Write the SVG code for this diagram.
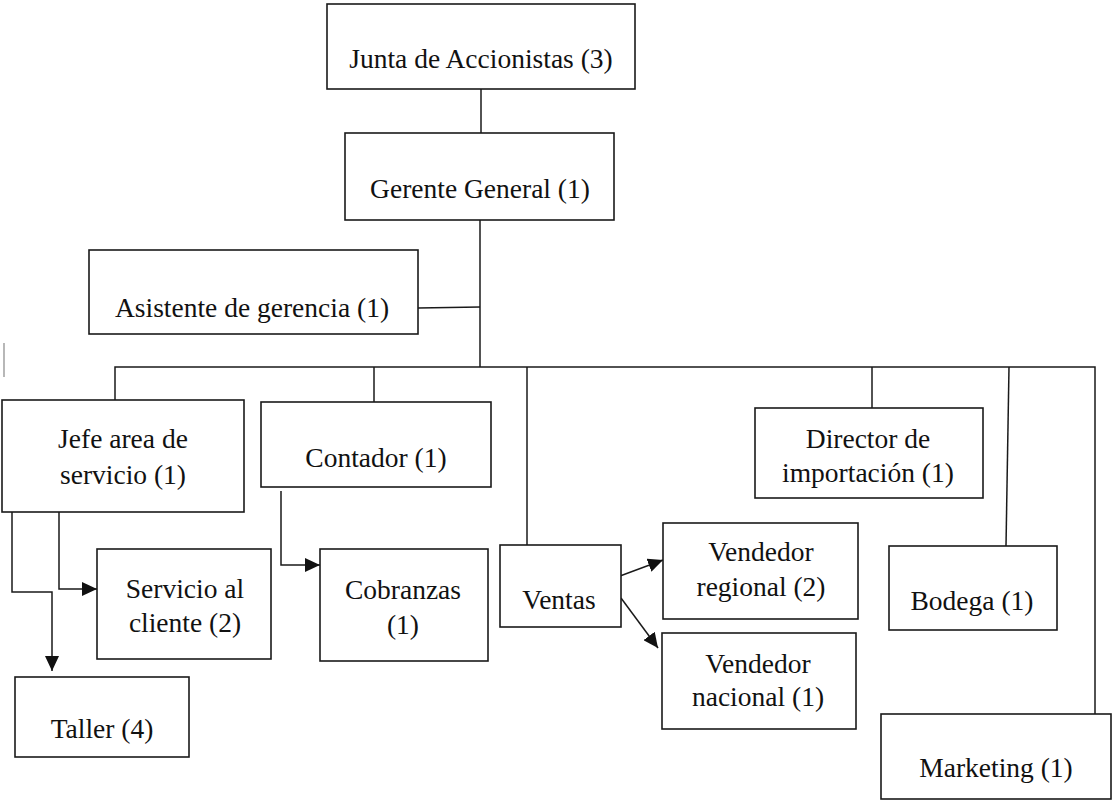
<svg xmlns="http://www.w3.org/2000/svg" width="1113" height="802" viewBox="0 0 1113 802">
<style>
.box{fill:#fff;stroke:#1a1a1a;stroke-width:1.6}
.t{font-family:"Liberation Serif","Times New Roman",serif;font-size:27.5px;fill:#111;text-anchor:middle}
.c{fill:none;stroke:#1a1a1a;stroke-width:1.5}
</style>
<defs>
<marker id="ah" markerUnits="userSpaceOnUse" markerWidth="16" markerHeight="14" viewBox="0 0 16 14" refX="15" refY="7" orient="auto">
<path d="M0,0 L15,7 L0,14 Z" fill="#111"/>
</marker>
</defs>
<rect width="1113" height="802" fill="#fff"/>
<g id="connectors">
<path class="c" d="M481,89 V133"/>
<path class="c" d="M480,220 V367"/>
<path class="c" d="M418,308 L480,307"/>
<path class="c" d="M115,400 V367 H1095 V714"/>
<path class="c" d="M374,367 V402"/>
<path class="c" d="M527,367 V545"/>
<path class="c" d="M872,367 V408"/>
<path class="c" d="M1009,367 L1006,546"/>
<path class="c" d="M59,512 V589 H97" marker-end="url(#ah)"/>
<path class="c" d="M12,512 V592 H52 V671" marker-end="url(#ah)"/>
<path class="c" d="M281,491 V565 H320" marker-end="url(#ah)"/>
<path class="c" d="M620,576 L663,560" marker-end="url(#ah)"/>
<path class="c" d="M621,598 L658,648" marker-end="url(#ah)"/>
<path d="M4,343 V377" stroke="#888" stroke-width="1.2" fill="none"/>
</g>
<g id="junta"><rect class="box" x="327" y="4" width="308" height="85"/><text class="t" x="481" y="68">Junta de Accionistas (3)</text></g>
<g id="gerente"><rect class="box" x="345" y="133" width="269" height="87"/><text class="t" x="480" y="198">Gerente General (1)</text></g>
<g id="asistente"><rect class="box" x="89" y="250" width="329" height="84"/><text class="t" x="252" y="317">Asistente de gerencia (1)</text></g>
<g id="jefe"><rect class="box" x="2" y="400" width="242" height="112"/><text class="t" x="123" y="448">Jefe area de</text><text class="t" x="123" y="484">servicio (1)</text></g>
<g id="contador"><rect class="box" x="261" y="402" width="230" height="85"/><text class="t" x="376" y="467">Contador (1)</text></g>
<g id="servicio"><rect class="box" x="97" y="549" width="174" height="110"/><text class="t" x="185" y="598">Servicio al</text><text class="t" x="185" y="632">cliente (2)</text></g>
<g id="cobranzas"><rect class="box" x="320" y="549" width="168" height="112"/><text class="t" x="403" y="599">Cobranzas</text><text class="t" x="403" y="634">(1)</text></g>
<g id="taller"><rect class="box" x="15" y="677" width="174" height="80"/><text class="t" x="102" y="738">Taller (4)</text></g>
<g id="ventas"><rect class="box" x="500" y="545" width="121" height="82"/><text class="t" x="559" y="609">Ventas</text></g>
<g id="vregional"><rect class="box" x="663" y="523" width="195" height="96"/><text class="t" x="761" y="561">Vendedor</text><text class="t" x="761" y="596">regional (2)</text></g>
<g id="vnacional"><rect class="box" x="662" y="633" width="194" height="96"/><text class="t" x="758" y="673">Vendedor</text><text class="t" x="758" y="706">nacional (1)</text></g>
<g id="director"><rect class="box" x="755" y="408" width="228" height="90"/><text class="t" x="868" y="448">Director de</text><text class="t" x="868" y="482">importación (1)</text></g>
<g id="bodega"><rect class="box" x="889" y="546" width="168" height="84"/><text class="t" x="972" y="610">Bodega (1)</text></g>
<g id="marketing"><rect class="box" x="881" y="714" width="230" height="85"/><text class="t" x="996" y="777">Marketing (1)</text></g>
</svg>
